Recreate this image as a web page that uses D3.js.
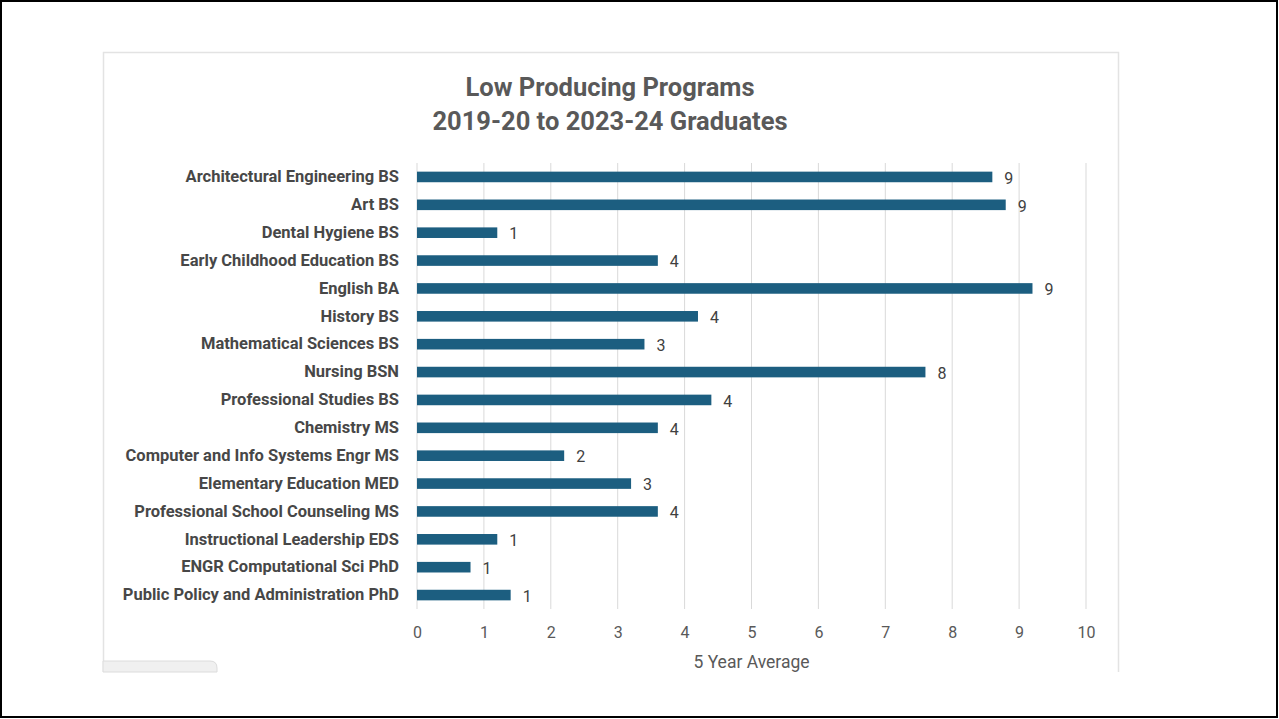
<!DOCTYPE html>
<html>
<head>
<meta charset="utf-8">
<script src="https://cdn.jsdelivr.net/npm/d3@7"></script>
<style>
  html, body { margin: 0; padding: 0; background: #fff; }
  svg { display: block; }
</style>
</head>
<body>
<svg id="chart" width="1279" height="719"></svg>
<script>
// Programs, top to bottom as shown
const programs = [
  'Architectural Engineering BS',
  'Art BS',
  'Dental Hygiene BS',
  'Early Childhood Education BS',
  'English BA',
  'History BS',
  'Mathematical Sciences BS',
  'Nursing BSN',
  'Professional Studies BS',
  'Chemistry MS',
  'Computer and Info Systems Engr MS',
  'Elementary Education MED',
  'Professional School Counseling MS',
  'Instructional Leadership EDS',
  'ENGR Computational Sci PhD',
  'Public Policy and Administration PhD',
];
// 5 year average graduates
const averages = [8.6, 8.8, 1.2, 3.6, 9.2, 4.2, 3.4, 7.6, 4.4, 3.6, 2.2, 3.2, 3.6, 1.2, 0.8, 1.4];
const xTicks = [0, 1, 2, 3, 4, 5, 6, 7, 8, 9, 10];
const titleLines = ['Low Producing Programs', '2019-20 to 2023-24 Graduates'];
const axisTitle = '5 Year Average';

const font = 'Roboto, "Liberation Sans", Arial, sans-serif';
const barColor = '#1c5e80';

const svg = d3.select('#chart');

// slide frame
svg.append('rect')
  .attr('x', 1).attr('y', 1).attr('width', 1276).attr('height', 716)
  .attr('fill', '#fff').attr('stroke', '#000').attr('stroke-width', 2);

// chart area border (cut off at bottom like the screenshot)
svg.append('path')
  .attr('d', 'M103.5,672 L103.5,52.5 L1118.5,52.5 L1118.5,672')
  .attr('fill', 'none').attr('stroke', '#e3e3e3').attr('stroke-width', 1.5);

// small grey tab bottom left
svg.append('path')
  .attr('d', 'M103,661 L210,661 Q217,661 217,668 L217,672 L103,672 Z')
  .attr('fill', '#f0f0f0').attr('stroke', '#dcdcdc');

const margin = { left: 417, right: 1086, top: 163, bottom: 609 };

const x = d3.scaleLinear().domain([0, 10]).range([margin.left, margin.right]);
const y = d3.scaleBand().domain(programs).range([margin.top, margin.bottom]).paddingInner(0.62).paddingOuter(0.31);

// title
svg.append('text')
  .attr('x', 610).attr('text-anchor', 'middle')
  .attr('font-family', font).attr('font-weight', 'bold')
  .attr('font-size', 25.5).attr('fill', '#595959')
  .selectAll('tspan').data(titleLines).join('tspan')
  .attr('x', 610)
  .attr('y', (d, i) => 96 + i * 34)
  .text(d => d);

// vertical gridlines
svg.append('g')
  .selectAll('line').data(xTicks).join('line')
  .attr('x1', d => x(d)).attr('x2', d => x(d))
  .attr('y1', margin.top).attr('y2', margin.bottom)
  .attr('stroke', '#d9d9d9').attr('stroke-width', 1);

// x axis labels
const xAxis = svg.append('g')
  .attr('transform', `translate(0,${margin.bottom})`)
  .call(d3.axisBottom(x).tickValues(xTicks).tickSize(0).tickPadding(18).tickFormat(d3.format('d')));
xAxis.select('.domain').remove();
xAxis.selectAll('text')
  .attr('font-family', font).attr('font-size', 16).attr('fill', '#595959');

// y axis labels
const yAxis = svg.append('g')
  .attr('transform', `translate(${margin.left},0)`)
  .call(d3.axisLeft(y).tickSize(0).tickPadding(18));
yAxis.select('.domain').remove();
yAxis.selectAll('text')
  .attr('font-family', font).attr('font-size', 16.5).attr('font-weight', 'bold').attr('fill', '#474747');

// bars
svg.append('g')
  .selectAll('rect').data(programs).join('rect')
  .attr('x', x(0))
  .attr('y', d => y(d))
  .attr('width', (d, i) => x(averages[i]) - x(0))
  .attr('height', y.bandwidth())
  .attr('fill', barColor);

// value labels
svg.append('g')
  .selectAll('text').data(programs).join('text')
  .attr('x', (d, i) => x(averages[i]) + 12)
  .attr('y', d => y(d) + y.bandwidth() / 2)
  .attr('dy', '0.42em')
  .attr('font-family', font).attr('font-size', 16).attr('fill', '#404040')
  .text((d, i) => Math.round(averages[i]));

// axis title
svg.append('text')
  .attr('x', (margin.left + margin.right) / 2).attr('y', 668)
  .attr('text-anchor', 'middle')
  .attr('font-family', font).attr('font-size', 17.5).attr('fill', '#595959')
  .text(axisTitle);
</script>
</body>
</html>
